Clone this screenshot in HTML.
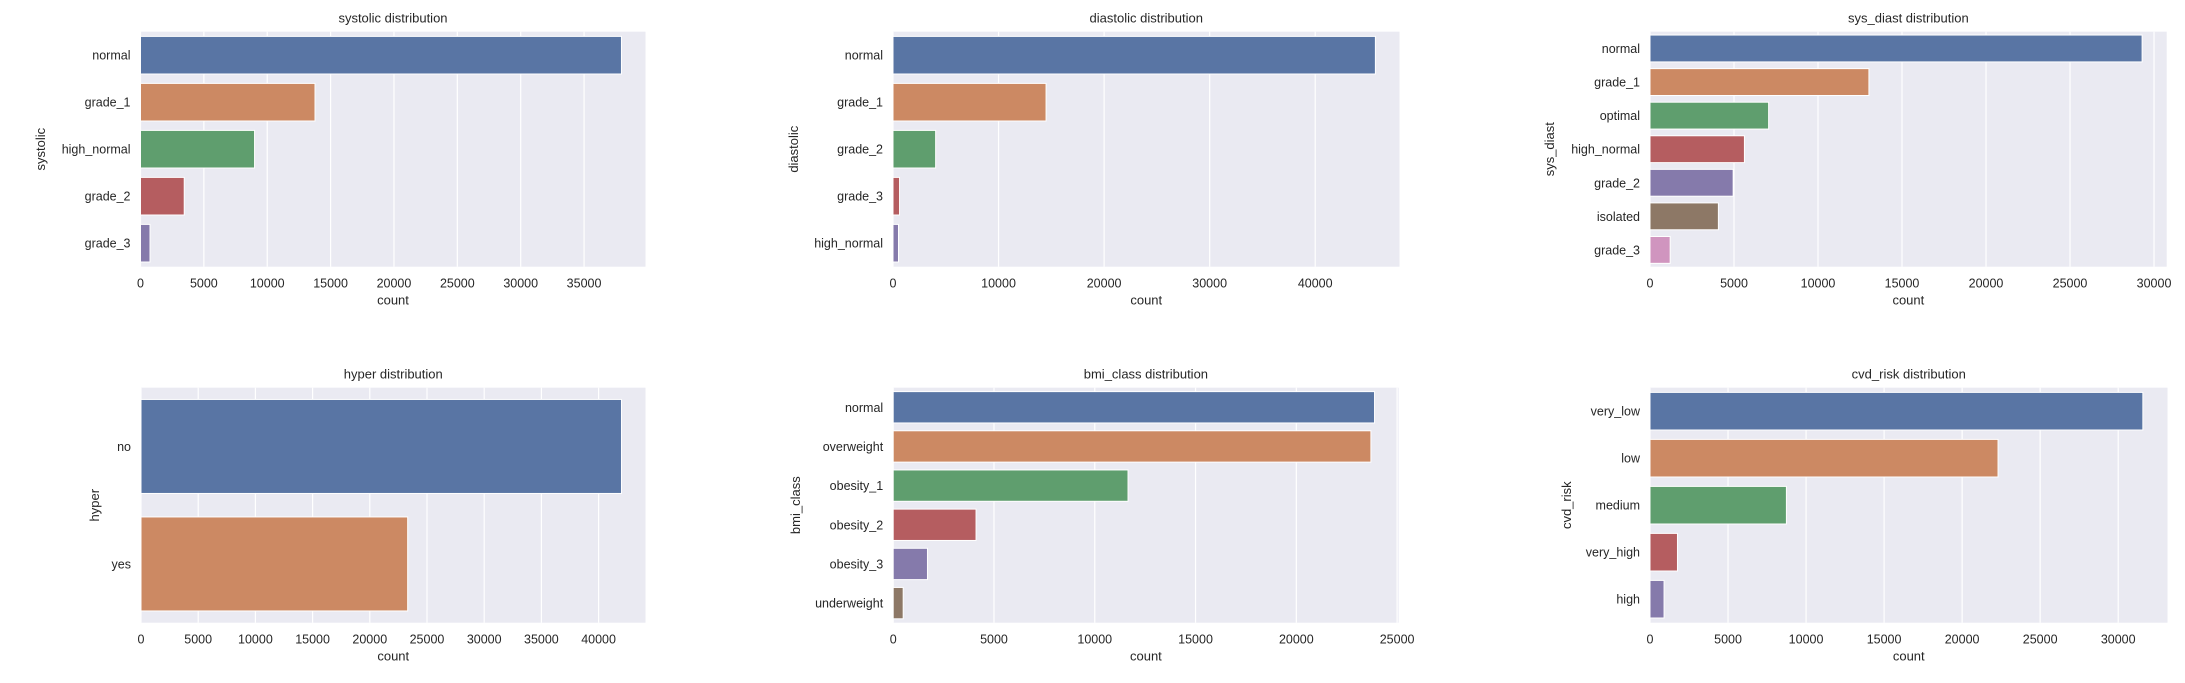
<!DOCTYPE html>
<html><head><meta charset="utf-8"><style>
html,body{margin:0;padding:0;background:#fff;}
svg{display:block;font-family:"Liberation Sans",Arial,sans-serif;}
</style></head><body>
<svg id="fig" width="2185" height="683" viewBox="0 0 2185 683"></svg>
<script>
const sysCats = ["normal","grade_1","high_normal","grade_2","grade_3"];
const sysVals = [37950,13770,9000,3450,750];
const sysTicks = [0,5000,10000,15000,20000,25000,30000,35000];
const diaCats = ["normal","grade_1","grade_2","grade_3","high_normal"];
const diaVals = [45700,14500,4040,620,520];
const diaTicks = [0,10000,20000,30000,40000];
const sdCats = ["normal","grade_1","optimal","high_normal","grade_2","isolated","grade_3"];
const sdVals = [29290,13030,7060,5620,4950,4070,1200];
const sdTicks = [0,5000,10000,15000,20000,25000,30000];
const hypCats = ["no","yes"];
const hypVals = [42000,23310];
const hypTicks = [0,5000,10000,15000,20000,25000,30000,35000,40000];
const bmiCats = ["normal","overweight","obesity_1","obesity_2","obesity_3","underweight"];
const bmiVals = [23880,23700,11650,4110,1700,495];
const bmiTicks = [0,5000,10000,15000,20000,25000];
const cvdCats = ["very_low","low","medium","very_high","high"];
const cvdVals = [31580,22300,8740,1760,900];
const cvdTicks = [0,5000,10000,15000,20000,25000,30000];

const colors = ["#5975A4","#CC8963","#5F9E6E","#B55D60","#857AAB","#8D7866","#D095BF"];
const NS = "http://www.w3.org/2000/svg";
const fig = document.getElementById('fig');
function mk(tag, attrs, parent, text){
  const e = document.createElementNS(NS, tag);
  for (const k in attrs) e.setAttribute(k, attrs[k]);
  if (text !== undefined) e.textContent = text;
  parent.appendChild(e);
  return e;
}
function chart(o){
  const g = mk('g', {}, fig);
  
  
  const L=o.left, R=o.right, T=o.top, B=o.bottom;
  const xmax = Math.max(...o.vals) * 1.05;
  const xs = v => L + (v / xmax) * (R - L);
  const band = (B - T) / o.cats.length;
  const bg = mk('rect', {x:L, y:T, width:R-L, height:B-T, fill:'#EAEAF2'}, g);
  
  
  o.ticks.forEach(t => {
    const x = xs(t);
    const gl = mk('line', {x1:x, x2:x, y1:T, y2:B, stroke:'#fff', 'stroke-width':1.2}, g);
    
    
    const tl = mk('text', {x:x, y:B+21, 'text-anchor':'middle', 'font-size':12.5, fill:'#262626'}, g, String(t));
    
    
  });
  o.cats.forEach((c, i) => {
    const cy = T + band * (i + 0.5);
    const bh = band * 0.8;
    const r = mk('rect', {x:L, y:cy - bh/2, width:xs(o.vals[i]) - L, height:bh, fill:colors[i % colors.length], stroke:'#fff', 'stroke-width':1}, g);
    
    
    const lt = mk('text', {x:L-10, y:cy+4.5, 'text-anchor':'end', 'font-size':12.5, fill:'#262626'}, g, c);
    
    
  });
  const ti = mk('text', {x:(L+R)/2, y:T-9, 'text-anchor':'middle', 'font-size':13, fill:'#262626'}, g, o.name + ' distribution');
  
  
  const xl = mk('text', {x:(L+R)/2, y:B+38, 'text-anchor':'middle', 'font-size':13, fill:'#262626'}, g, 'count');
  
  
  const cy = (T+B)/2;
  const yl = mk('text', {x:o.ylx, y:cy, 'text-anchor':'middle', 'font-size':13, fill:'#262626', transform:'rotate(-90 '+o.ylx+' '+cy+')'}, g, o.name);
  
  
}
const topT = 31.7, topB = 266.7, botT = 387.7, botB = 622.7;
chart({name:'systolic', cats:sysCats, vals:sysVals, ticks:sysTicks, left:140.5, right:645.5, top:topT, bottom:topB, ylx:45});
chart({name:'diastolic', cats:diaCats, vals:diaVals, ticks:diaTicks, left:893, right:1399.5, top:topT, bottom:topB, ylx:798});
chart({name:'sys_diast', cats:sdCats, vals:sdVals, ticks:sdTicks, left:1650, right:2166.7, top:topT, bottom:topB, ylx:1554});
chart({name:'hyper', cats:hypCats, vals:hypVals, ticks:hypTicks, left:141, right:645.5, top:botT, bottom:botB, ylx:99});
chart({name:'bmi_class', cats:bmiCats, vals:bmiVals, ticks:bmiTicks, left:893.2, right:1398.6, top:botT, bottom:botB, ylx:800});
chart({name:'cvd_risk', cats:cvdCats, vals:cvdVals, ticks:cvdTicks, left:1650, right:2167.5, top:botT, bottom:botB, ylx:1571});
</script>
</body></html>
